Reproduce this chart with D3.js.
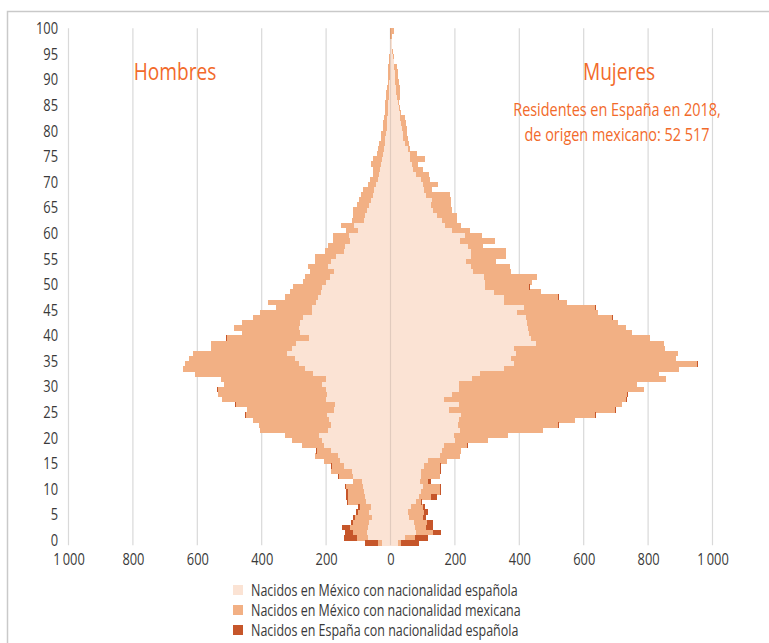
<!DOCTYPE html>
<html>
<head>
<meta charset="utf-8">
<script src="https://cdn.jsdelivr.net/npm/d3@7"></script>
<style>
	body { margin: 0; background: #ffffff; }
	svg { display: block; }
	.pyr-tick text { font-family: 'Open Sans', 'Noto Sans', sans-serif; font-size: 16.5px; fill: #3a3a3a; }
	.pyr-title { font-family: 'Open Sans', 'Noto Sans', sans-serif; fill: #f26a2a; }
	.pyr-legend text { font-family: 'Open Sans', 'Noto Sans', sans-serif; font-size: 16px; fill: #3a3a3a; }
</style>
</head>
<body>
<svg id="chart" width="769" height="643"></svg>
<script>

// edades 0..100
var aAges = d3.range(0, 101);

// Hombres
var aHombresEspanola = [25,70,72,70,68,58,66,62,75,78,83,86,90,115,120,145,158,162,185,205,
	214,222,195,185,192,196,175,172,200,196,200,212,200,240,265,283,297,320,307,292,
	252,281,283,280,272,243,245,230,224,217,212,200,188,175,195,185,170,145,140,125,
	130,102,112,82,80,72,68,60,55,50,45,40,36,32,30,27,24,21,18,16,
	14,12,11,10,9,8,7,6,5,5,4,3,3,2,2,2,1,1,1,0,0];
var aHombresMexicana = [13,33,46,55,47,51,36,33,56,55,48,51,27,45,64,38,49,73,44,71,
	91,105,209,222,236,254,272,309,324,339,337,306,325,367,378,355,330,293,251,265,
	257,181,203,181,154,163,111,149,104,95,91,73,77,75,61,50,65,59,55,53,
	50,35,43,38,38,46,37,38,37,35,25,24,19,21,32,28,19,17,17,15,
	14,12,12,10,9,8,11,8,9,7,5,5,5,5,3,4,2,1,1,1,1];
var aHombresEspana = [42,42,22,25,8,6,5,5,3,4,6,5,1,2,0,2,1,0,1,0,
	0,1,0,1,0,1,0,2,0,0,1,0,2,0,2,0,0,1,0,1,
	2,0,0,1,0,0,0,1,0,0,1,0,0,0,0,0,0,0,0,0,
	0,0,0,0,0,0,0,0,0,0,0,0,0,0,0,0,0,0,0,0,
	0,0,0,0,0,0,0,0,0,0,0,0,0,0,0,0,0,0,0,0,0];

// Mujeres
var aMujeresEspanola = [24,45,80,76,72,56,55,64,78,87,95,100,92,95,95,105,118,155,160,166,
	200,196,215,209,212,220,183,212,165,190,212,212,254,277,351,385,375,391,385,453,
	437,430,427,424,422,393,415,351,351,320,295,295,290,256,251,233,250,250,240,215,
	230,190,170,160,145,132,125,130,110,105,100,95,80,70,68,62,62,55,45,40,
	38,35,33,30,28,25,22,20,18,17,15,14,13,12,10,8,6,5,4,3,2];
var aMujeresMexicana = [10,31,51,35,41,46,50,37,18,40,58,54,25,58,59,50,57,61,59,72,
	104,168,259,312,360,416,514,508,567,546,576,552,603,557,545,568,513,502,466,395,
	369,319,304,281,267,252,220,197,169,148,136,145,165,119,119,95,108,110,47,111,
	55,56,50,46,60,60,63,59,76,25,48,27,40,31,18,45,19,7,13,15,
	12,17,15,15,6,5,5,10,11,12,11,10,9,8,2,2,1,1,1,1,8];
var aMujeresEspana = [55,41,27,20,20,8,12,6,3,18,5,4,10,2,2,3,1,0,1,3,
	0,1,0,2,0,1,2,0,1,2,0,2,0,0,0,2,0,0,1,2,
	1,2,0,0,2,0,2,0,2,0,1,0,0,0,0,0,0,0,0,0,
	0,0,0,0,0,0,0,0,0,0,0,0,0,0,0,0,0,0,0,0,
	0,0,0,0,0,0,0,0,0,0,0,0,0,0,0,0,0,0,0,0,0];

var aTicksX = [-1000,-800,-600,-400,-200,0,200,400,600,800,1000];
var aTicksY = d3.range(0, 101, 5);

var aSeries = ['espanola','mexicana','espana'];
var aSeriesNames = [
	'Nacidos en México con nacionalidad española',
	'Nacidos en México con nacionalidad mexicana',
	'Nacidos en España con nacionalidad española'];
var aColors = ['#fbe3d4','#f2b084','#c6562a'];


function D3_PyramidChart(vSelector)
{
	var sSvg = d3.select(vSelector);
	const strCssClassPrefix = 'pyr-';
	const strNarrow = 'scale(0.78,1)';

	var nLeft = 68.5;
	var nRight = 712.5;
	var nTop = 28.3;
	var nBottom = 545.3;

	var aMen = aAges.map(function(nAge, i)
		{
			return {age: nAge, espanola: aHombresEspanola[i], mexicana: aHombresMexicana[i], espana: aHombresEspana[i]};
		});
	var aWomen = aAges.map(function(nAge, i)
		{
			return {age: nAge, espanola: aMujeresEspanola[i], mexicana: aMujeresMexicana[i], espana: aMujeresEspana[i]};
		});

	var scaleX = d3.scaleLinear()
		.domain([-1000, 1000])
		.range([nLeft, nRight]);

	var scaleY = d3.scaleBand()
		.domain(aAges.slice().reverse())
		.range([nTop, nBottom])
		.paddingInner(0)
		.paddingOuter(0);

	var scaleColor = d3.scaleOrdinal()
		.domain(aSeries)
		.range(aColors);

	// frame
	sSvg.append('path')
		.attr('d', 'M7.5,643 L7.5,11.5 L769,11.5')
		.attr('fill', 'none')
		.attr('stroke', '#c9c9c9')
		.attr('stroke-width', 1.5);

	// grid
	sSvg.append('g')
		.attr('class', strCssClassPrefix+'grid')
		.selectAll('line')
		.data(aTicksX)
		.enter()
			.append('line')
				.attr('x1', function(n) { return scaleX(n); })
				.attr('x2', function(n) { return scaleX(n); })
				.attr('y1', nTop)
				.attr('y2', nBottom)
				.attr('stroke', '#d9d9d9')
				.attr('stroke-width', 1.2);

	var stack = d3.stack().keys(aSeries);

	function DrawSide(aRows, nSign, strName)
	{
		var aLayers = stack(aRows);
		var sLayers = sSvg.append('g')
			.attr('class', strCssClassPrefix+strName)
			.selectAll('g')
			.data(aLayers)
			.enter()
				.append('g')
					.attr('fill', function(layer) { return scaleColor(layer.key); });

		sLayers.selectAll('rect')
			.data(function(layer) { return layer; })
			.enter()
				.append('rect')
					.attr('x', function(d)
						{
							return Math.min(scaleX(nSign*d[0]), scaleX(nSign*d[1]));
						})
					.attr('width', function(d)
						{
							return Math.abs(scaleX(nSign*d[1]) - scaleX(nSign*d[0]));
						})
					.attr('y', function(d) { return scaleY(d.data.age); })
					.attr('height', scaleY.bandwidth() + 0.4)
					.attr('shape-rendering', 'crispEdges');
	}

	DrawSide(aMen, -1, 'hombres');
	DrawSide(aWomen, 1, 'mujeres');

	// zero line shows through
	sSvg.append('line')
		.attr('x1', scaleX(0))
		.attr('x2', scaleX(0))
		.attr('y1', nTop)
		.attr('y2', nBottom)
		.attr('stroke', '#000000')
		.attr('stroke-opacity', 0.1)
		.attr('stroke-width', 1.2);

	// axes
	var axisY = d3.axisLeft(scaleY)
		.tickValues(aTicksY)
		.tickSize(0)
		.tickPadding(0);
	var sAxisY = sSvg.append('g')
		.attr('class', strCssClassPrefix+'tick')
		.attr('transform', 'translate(58,-2)')
		.call(axisY);
	sAxisY.select('.domain').remove();
	sAxisY.selectAll('text')
		.attr('fill', null)
		.attr('x', 0)
		.attr('transform', strNarrow);

	var axisX = d3.axisBottom(scaleX)
		.tickValues(aTicksX)
		.tickSize(0)
		.tickPadding(0)
		.tickFormat(function(n)
			{
				return d3.format(',')(Math.abs(n)).replace(',', '\u2009');
			});
	var sAxisX = sSvg.append('g')
		.attr('class', strCssClassPrefix+'tick')
		.attr('transform', 'translate(0,' + (nBottom + 8) + ')')
		.call(axisX);
	sAxisX.select('.domain').remove();
	sAxisX.selectAll('text')
		.attr('fill', null)
		.attr('transform', strNarrow);

	// titles
	function AddTitle(nX, nY, nSize, strText)
	{
		sSvg.append('g')
			.attr('transform', 'translate(' + nX + ',' + nY + ')')
			.append('text')
				.attr('class', strCssClassPrefix+'title')
				.attr('text-anchor', 'middle')
				.attr('transform', strNarrow)
				.style('font-size', nSize + 'px')
				.text(strText);
	}
	AddTitle(175, 80, 24.5, 'Hombres');
	AddTitle(619, 80, 24.5, 'Mujeres');
	AddTitle(617, 116, 18.5, 'Residentes en España en 2018,');
	AddTitle(617, 141, 18.5, 'de origen mexicano: 52 517');

	// legend
	var sLegend = sSvg.append('g')
		.attr('class', strCssClassPrefix+'legend')
		.selectAll('g')
		.data(aSeries)
		.enter()
			.append('g')
				.attr('transform', function(strKey, i)
					{
						return 'translate(233,' + (590 + i*20) + ')';
					});
	sLegend.append('rect')
		.attr('x', 0)
		.attr('y', -5)
		.attr('width', 10)
		.attr('height', 10)
		.attr('fill', function(strKey) { return scaleColor(strKey); });
	sLegend.append('text')
		.attr('transform', 'translate(18,0) ' + strNarrow)
		.attr('dy', '0.35em')
		.text(function(strKey, i) { return aSeriesNames[i]; });
}

D3_PyramidChart('#chart');

</script>
</body>
</html>
